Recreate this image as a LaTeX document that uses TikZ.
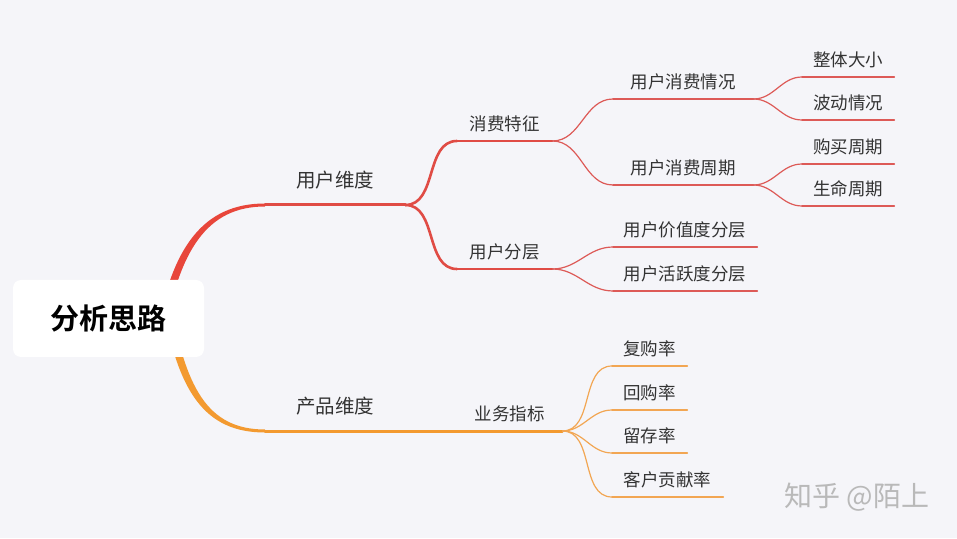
\documentclass[tikz,border=0pt]{standalone}
\usepackage{fontspec}
\setmainfont{Noto Sans CJK SC}[BoldFont={Noto Sans CJK SC Bold}]

\definecolor{canvas}{HTML}{F5F5F9}
\definecolor{labelgray}{HTML}{333333}
\definecolor{redmain}{HTML}{E8463B}
\definecolor{redline}{HTML}{E04C45}
\definecolor{redleaf}{HTML}{DD5A57}
\definecolor{orgmain}{HTML}{F39A30}
\definecolor{orgleaf}{HTML}{F2A653}

\tikzset{
  topic/.style={anchor=south west, inner xsep=0pt, inner ysep=10pt, text depth=0pt,
    minimum width=#1, text=labelgray, font=\fontsize{17.5}{20}\selectfont},
  major/.style={topic=#1, inner ysep=17pt, font=\fontsize{19.5}{22}\selectfont},
  link/.style={line cap=round, line width=#1},
}

\begin{document}
\begin{tikzpicture}[x=1pt, y=1pt]
    \fill[canvas] (0,0) rectangle (957,538);
    \useasboundingbox (0,0) rectangle (957,538);

    % topics
    \node[major=140] (user) at (265,333) {用户维度};
    \node[major=140] (product) at (265,107) {产品维度};
    \node[topic=95] (consume) at (457,397) {消费特征};
    \node[topic=95] (layer) at (457,269) {用户分层};
    \node[topic=105] (metric) at (457,107) {业务指标};
    \node[topic=140] (situation) at (613,439) {用户消费情况};
    \node[topic=140] (cycle) at (613,353) {用户消费周期};
    \node[topic=144] (value) at (613,291) {用户价值度分层};
    \node[topic=144] (active) at (613,247) {用户活跃度分层};
    \node[topic=92] (size) at (802,461) {整体大小};
    \node[topic=92] (wave) at (802,418) {波动情况};
    \node[topic=92] (buy) at (802,374) {购买周期};
    \node[topic=92] (life) at (802,332) {生命周期};
    \node[topic=75] (rebuy) at (612,172) {复购率};
    \node[topic=75] (backbuy) at (612,128) {回购率};
    \node[topic=75] (retain) at (612,85) {留存率};
    \node[topic=111] (contrib) at (612,41) {客户贡献率};

    % underlines
    \foreach \n/\w/\c in {user/3/redline, consume/2/redline, layer/2/redline,
        situation/1.2/redleaf, cycle/1.2/redleaf, value/1.2/redleaf, active/1.2/redleaf,
        size/1.2/redleaf, wave/1.2/redleaf, buy/1.2/redleaf, life/1.2/redleaf,
        product/3/orgmain, metric/3/orgmain,
        rebuy/1.2/orgleaf, backbuy/1.2/orgleaf, retain/1.2/orgleaf, contrib/1.2/orgleaf}
      \draw[link=\w, \c] (\n.south west) -- (\n.south east);

    % branches
    \foreach \a/\b/\w/\c in {user/consume/2.6/redline, user/layer/2.6/redline,
        consume/situation/1.2/redleaf, consume/cycle/1.2/redleaf,
        layer/value/1.2/redleaf, layer/active/1.2/redleaf,
        situation/size/1.2/redleaf, situation/wave/1.2/redleaf,
        cycle/buy/1.2/redleaf, cycle/life/1.2/redleaf,
        product/metric/3/orgmain,
        metric/rebuy/1.2/orgleaf, metric/backbuy/1.2/orgleaf,
        metric/retain/1.2/orgleaf, metric/contrib/1.2/orgleaf}
      \draw[link=\w, \c] (\a.south east) to[out=0, in=180] (\b.south west);

    % root and its two thick arms
    \coordinate (hub) at (108.5,219.5);
    \fill[redmain] ([shift={(47.5,-19.5)}]hub) .. controls +(15,92) and +(-61,0) .. ([yshift=1.5]user.south west)
      -- ([yshift=-1.5]user.south west) .. controls +(-58,0) and +(15,88) .. ([shift={(55.5,-19.5)}]hub) -- cycle;
    \fill[orgmain] ([shift={(53.5,19.5)}]hub) .. controls +(15,-92) and +(-61,0) .. ([yshift=-1.5]product.south west)
      -- ([yshift=1.5]product.south west) .. controls +(-58,0) and +(15,-88) .. ([shift={(61.5,19.5)}]hub) -- cycle;
    \node[fill=white, rounded corners=8pt, minimum width=191, minimum height=77,
      font=\fontsize{29}{32}\selectfont\bfseries] (root) at (hub) {分析思路};

    \node[text=gray!55, font=\fontsize{28}{31}\selectfont] (mark) at (857,41) {知乎 @陌上};
\end{tikzpicture}
\end{document}
